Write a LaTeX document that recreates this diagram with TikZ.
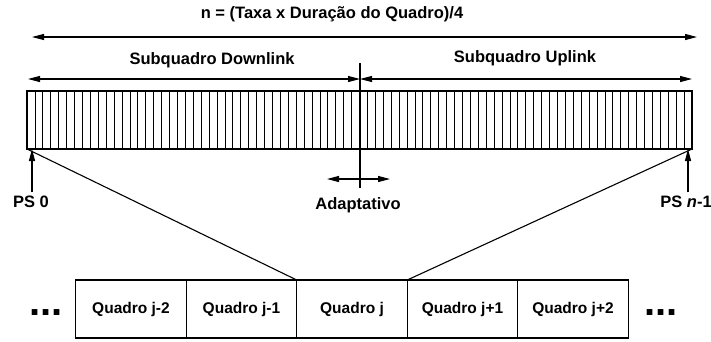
\documentclass[tikz,border=0pt]{standalone}
\usepackage{fontspec}
\setmainfont{Liberation Sans}
\usetikzlibrary{positioning,arrows.meta}

\begin{document}
\begin{tikzpicture}[x=1pt, y=-1pt, >={Triangle[length=12pt,width=6pt]},
  line width=1.1pt,
  every node/.style={font=\bfseries\fontsize{16.5}{18}\selectfont},
  qbox/.style={draw, minimum width=110.5pt, minimum height=58pt, inner sep=0pt, outer sep=0pt,
    font=\bfseries\fontsize{15.5}{17}\selectfont},
  dots/.style={inner sep=0pt, font=\bfseries\fontsize{40}{40}\selectfont}]
\useasboundingbox (0,0) rectangle (711,341);

% total length of the frame
\node (taxa) at (332,14) {n = (Taxa x Duração do Quadro)/4};
\coordinate (tl) at (32,37); \coordinate (tr) at (697,37);
\draw[<->] (tl) -- (tr);

% physical slots
\node[draw, anchor=north west, minimum width=665pt, minimum height=58pt, inner sep=0pt, outer sep=0pt] (frame) at (27,91) {};
\foreach \i in {1,...,83}
  \draw[line width=0.8pt] ([xshift=\i*7.917pt]frame.north west) -- ([xshift=\i*7.917pt]frame.south west);

% adaptive border between downlink and uplink
\coordinate (adtop) at (360,63); \coordinate (adbot) at (360,188);
\draw (adtop) -- (adbot);
\coordinate (dl) at (28,79); \coordinate (ul) at (692,79);
\draw[<->] (dl) -- (dl -| adtop);
\draw[<->] (ul -| adtop) -- (ul);
\node (down) at (212,60) {Subquadro Downlink};
\node (up) at (525,58) {Subquadro Uplink};

\coordinate (ad) at (359,179);
\draw[<->] ([xshift=-32pt]ad) -- ([xshift=31pt]ad);
\node (adap) at (358,205) {Adaptativo};

% first and last slot
\node (ps0) at (31,202) {PS 0};
\node (psn) at (686,202) {PS \textit{n}-1};
\draw[->] ([xshift=1pt]ps0.north) -- ([xshift=1pt]ps0.north |- frame.south);
\draw[->] ([xshift=2pt]psn.north) -- ([xshift=2pt]psn.north |- frame.south);

% sequence of frames
\node[qbox] (q0) at (352,309) {Quadro j};
\node[qbox, left=0pt of q0] (qm1) {Quadro j-1};
\node[qbox, left=0pt of qm1] (qm2) {Quadro j-2};
\node[qbox, right=0pt of q0] (qp1) {Quadro j+1};
\node[qbox, right=0pt of qp1] (qp2) {Quadro j+2};
\node[dots] (ldots) at (46,313) {...};
\node[dots] (rdots) at (661,313) {...};

\draw (frame.south west) -- (q0.north west);
\draw (frame.south east) -- (q0.north east);
\end{tikzpicture}
\end{document}
